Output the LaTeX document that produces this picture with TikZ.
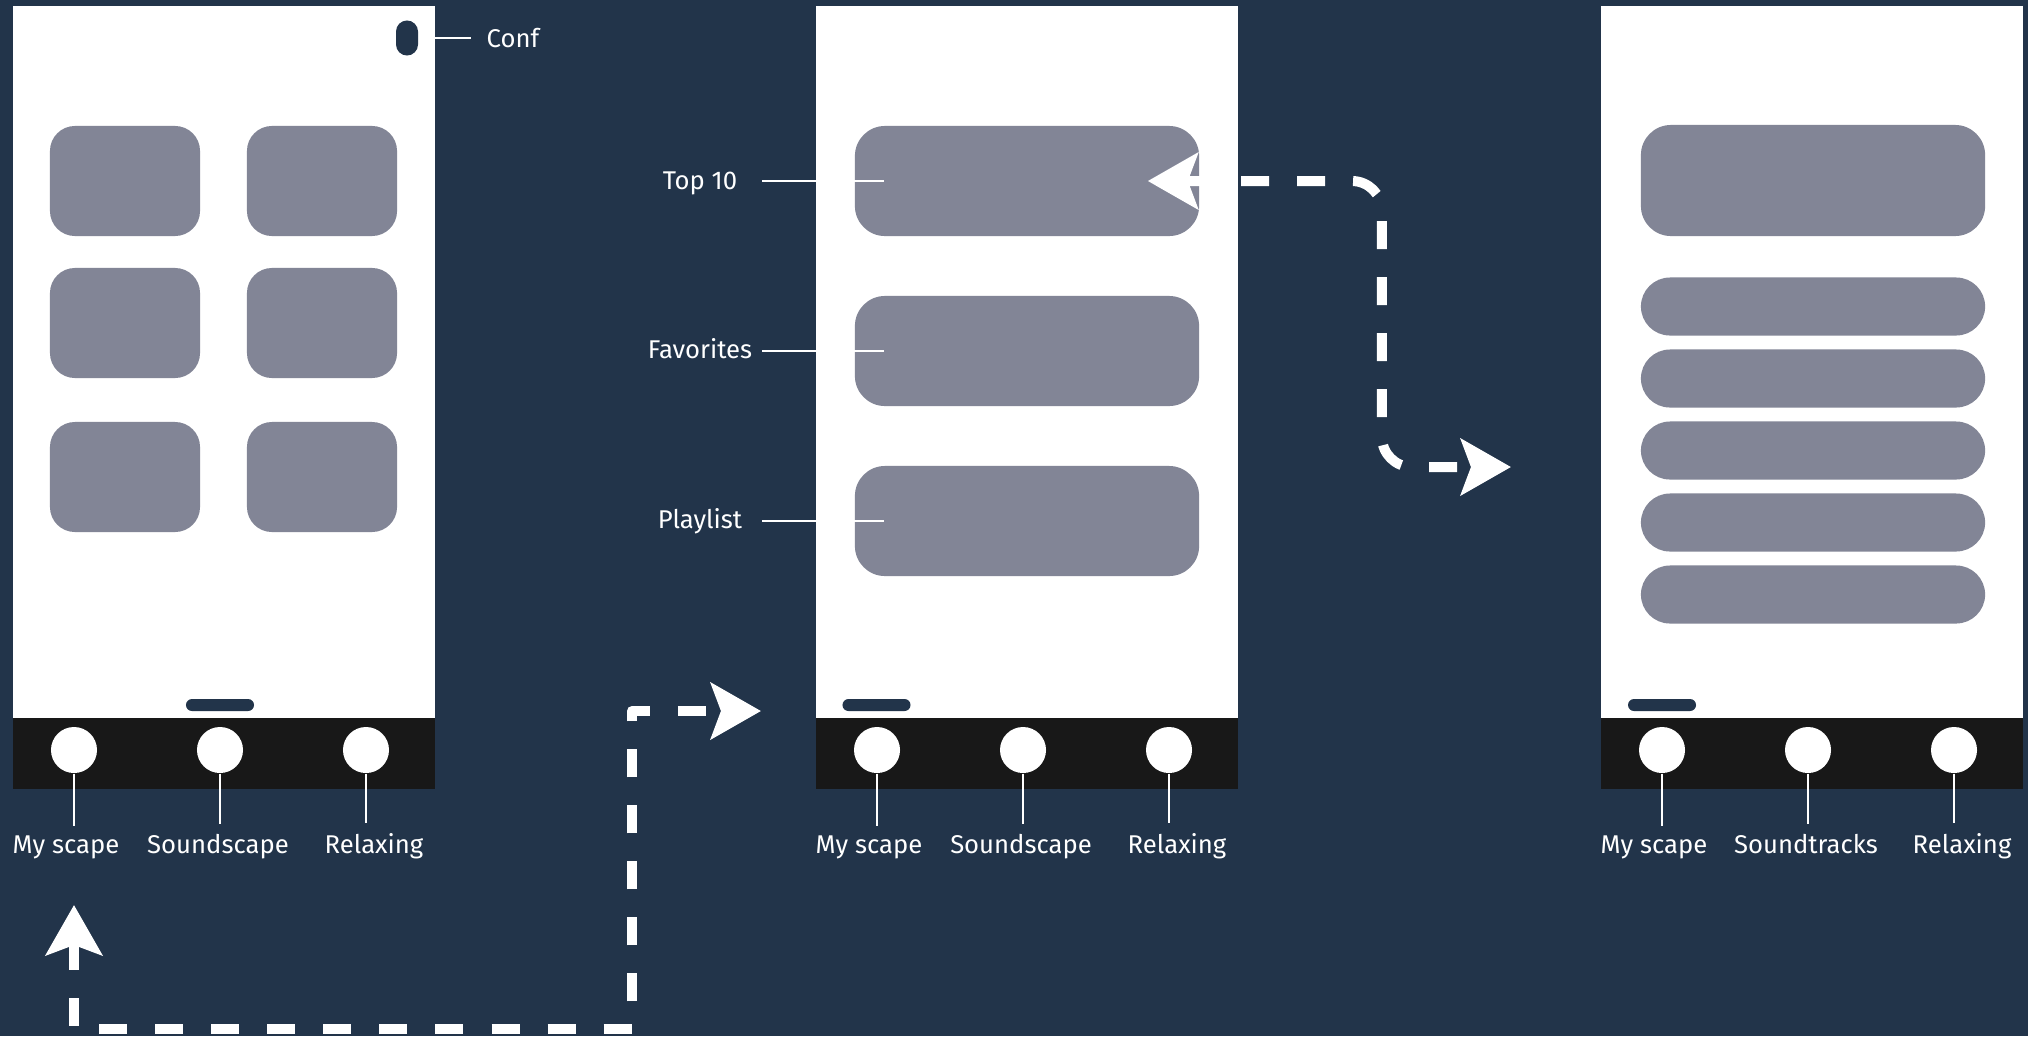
\documentclass[tikz,border=0pt]{standalone}
\usepackage{fontspec}
\setmainfont{Fira Sans}
\usetikzlibrary{arrows.meta,positioning}
\definecolor{navy}{RGB}{34,52,74}
\definecolor{tilegrey}{RGB}{130,133,150}
\definecolor{tabblack}{RGB}{24,24,24}

\begin{document}
\begin{tikzpicture}[x=0.01cm,y=-0.01cm,line join=round,
    font=\fontsize{7.3}{9}\selectfont,
    tile/.style={fill=tilegrey,rounded corners=0.25cm,inner sep=0pt,
      minimum width=1.5cm,minimum height=1.1cm},
    widetile/.style={tile,rounded corners=0.3cm,minimum width=3.44cm},
    listbar/.style={tile,rounded corners=0.29cm,minimum width=3.44cm,minimum height=0.58cm},
    tabdot/.style={circle,fill=white,inner sep=0pt,minimum size=0.46cm},
    homebar/.style={fill=navy,rounded corners=0.06cm,inner sep=0pt,
      minimum width=0.68cm,minimum height=0.12cm},
    txt/.style={text=white,inner sep=0pt},
    tablbl/.style={txt,anchor=base,inner ysep=0.09cm},
    leader/.style={draw=white,line width=0.5pt},
    flow/.style={draw=white,line width=0.1cm,dash pattern=on 0.28cm off 0.28cm,
      >={Stealth[length=0.5cm,width=0.56cm,inset=0.1cm]},<->}]

  % ---- sfondo --------------------------------------------------------------
  \fill[navy] (0,0) rectangle (2028,1036);
  \useasboundingbox (0,0) rectangle (2028,1036);

  % ---- i tre schermi, con la barra delle schede ----------------------------
  \foreach \sx in {13,816,1601}{
    \fill[white] (\sx,6) rectangle ++(422,712);
    \fill[tabblack] (\sx,718) rectangle ++(422,71);
  }

  % ---- schede e nomi delle schede -------------------------------------------
  \foreach \sx/\s/\tb in {13/a/Soundscape,816/b/Soundscape,1601/c/Soundtracks}{
    \foreach \k/\dx/\lx/\name in {1/61/53/My scape,2/207/205/\tb,3/353/361/Relaxing}{
      \node[tabdot] (\s\k) at (\sx+\dx,750) {};
      \node[tablbl] (l\s\k) at (\sx+\lx,853) {\name};
      \draw[leader] (\s\k.south) -- (\s\k.south |- l\s\k.north);
    }
  }

  % ---- indicatore della scheda attiva --------------------------------------
  \node[homebar] (homea) at (220,705) {};
  \node[homebar] (homeb) at (876.5,705) {};
  \node[homebar] (homec) at (1662,705) {};

  % ---- schermo 1: griglia 3x2 e pulsante Conf ------------------------------
  \foreach \y [count=\r] in {181,323,477}
    \foreach \x [count=\c] in {125,322}
      \node[tile] (g\r\c) at (\x,\y) {};

  \node[fill=navy,rounded corners=0.11cm,inner sep=0pt,
        minimum width=0.22cm,minimum height=0.35cm] (conf) at (407,38) {};
  \node[txt,anchor=base west,inner xsep=0.15cm] (conflbl) at (471,47) {Conf};
  \draw[leader] (conf.east) -- (conf.east -| conflbl.west);

  % ---- schermo 2: tre riquadri con i nomi ----------------------------------
  \node[widetile] (top) at (1027,181) {};
  \node[widetile] (fav) at (1027,351) {};
  \node[widetile] (play) at (1027,521) {};

  \node[txt,anchor=base] (ltop) at (700,189) {Top 10};
  \node[txt,anchor=base] (lfav) at (700,358) {Favorites};
  \node[txt,anchor=base] (lplay) at (700,528) {Playlist};

  \coordinate (lcol) at (762,0);
  \foreach \t in {top,fav,play}
    \draw[leader] (lcol |- \t.west) -- ([xshift=0.3cm]\t.west);

  % ---- schermo 3: riquadro e cinque righe ----------------------------------
  \node[widetile,minimum height=1.11cm] (hero) at (1813,180.5) {};
  \foreach \y [count=\i] in {306.5,378.5,450.5,522.5,594.5}
    \node[listbar] (row\i) at (1813,\y) {};

  % ---- percorsi tratteggiati -----------------------------------------------
  \coordinate (backtip) at ([xshift=-0.52cm]top.east);
  \coordinate (nexttip) at (1511,467);
  \draw[flow,rounded corners=0.3cm] (backtip) -| ([xshift=-1.29cm]nexttip) -- (nexttip);

  \coordinate (uptip) at (74,905);
  \coordinate (lowcorner) at (632,1029);
  \coordinate (midtip) at (761,711);
  \draw[flow] (uptip) |- (lowcorner) |- (midtip);

\end{tikzpicture}
\end{document}
